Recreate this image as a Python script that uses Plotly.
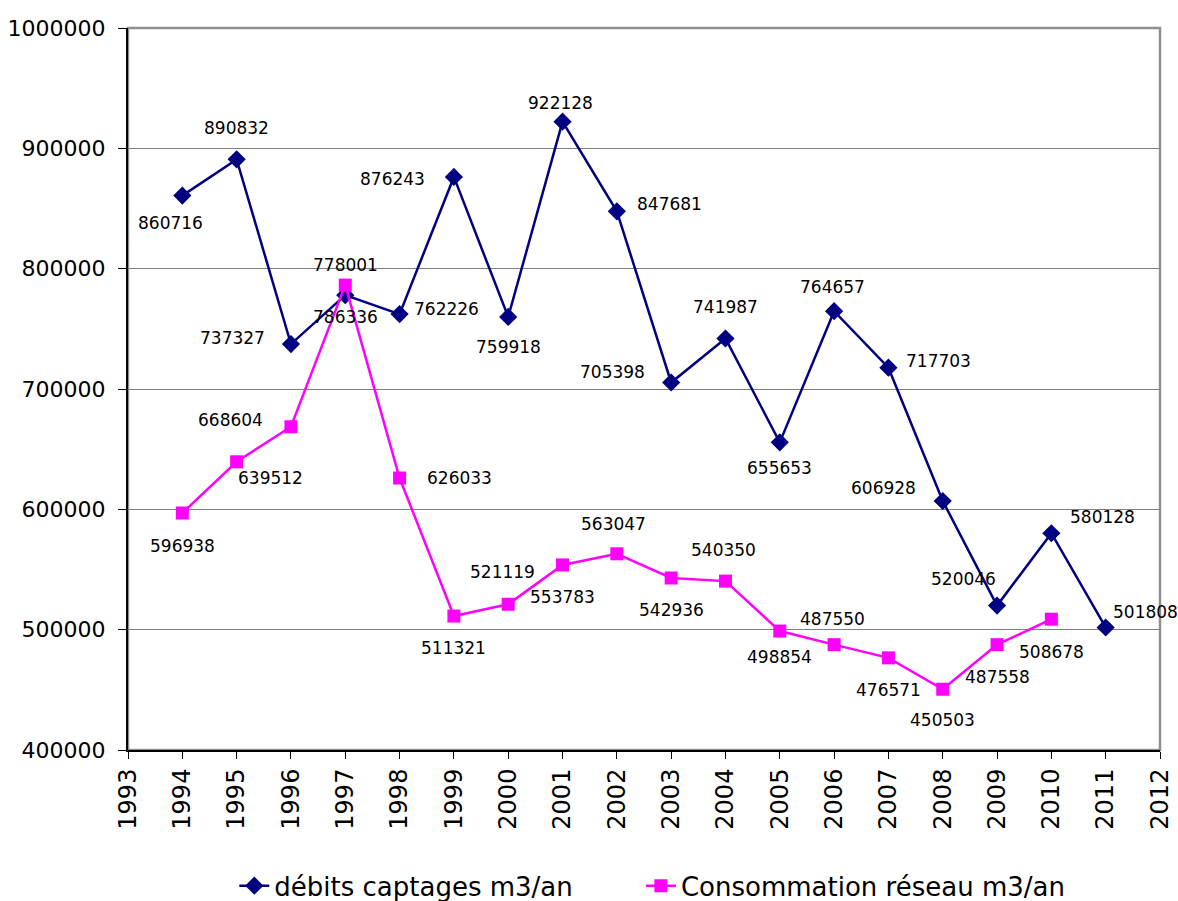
import plotly.graph_objects as go

years_captages = [1994, 1995, 1996, 1997, 1998, 1999, 2000, 2001, 2002, 2003,
                  2004, 2005, 2006, 2007, 2008, 2009, 2010, 2011]
debits_captages = [860716, 890832, 737327, 778001, 762226, 876243, 759918, 922128,
                   847681, 705398, 741987, 655653, 764657, 717703, 606928, 520046,
                   580128, 501808]

years_conso = [1994, 1995, 1996, 1997, 1998, 1999, 2000, 2001, 2002, 2003,
               2004, 2005, 2006, 2007, 2008, 2009, 2010]
conso_reseau = [596938, 639512, 668604, 786336, 626033, 511321, 521119, 553783,
                563047, 542936, 540350, 498854, 487550, 476571, 450503, 487558,
                508678]

y_ticks = [400000, 500000, 600000, 700000, 800000, 900000, 1000000]
x_ticks = list(range(1993, 2013))

# label offsets in pixels from the marker (dx right, dy down) -- style only
off_captages = [(-12, 27), (0, -31), (-58, -6), (0, -30), (47, -5), (-61, 2),
                (0, 30), (-2, -19), (53, -7), (-59, -11), (0, -31), (0, 26),
                (-2, -24), (50, -7), (-59, -13), (-34, -27), (51, -16), (40, -15)]
off_conso = [(0, 33), (34, 16), (-60, -7), (0, 32), (60, 0), (0, 32), (-6, -32),
             (0, 32), (-3, -30), (0, 32), (-2, -31), (0, 26), (-2, -26), (0, 32),
             (0, 31), (0, 32), (0, 33)]

NAVY = "#000080"
PINK = "#FF00FF"
FONT = "DejaVu Sans"

fig = go.Figure()
fig.add_trace(go.Scatter(
    x=years_captages, y=debits_captages, name="débits captages m3/an",
    mode="lines+markers", legend="legend",
    line=dict(color=NAVY, width=2.5),
    marker=dict(symbol="diamond", size=14, color=NAVY),
    cliponaxis=False,
))
fig.add_trace(go.Scatter(
    x=years_conso, y=conso_reseau, name="Consommation réseau m3/an",
    mode="lines+markers", legend="legend2",
    line=dict(color=PINK, width=2.5),
    marker=dict(symbol="square", size=13, color=PINK),
    cliponaxis=False,
))

for xs, ys, offs in ((years_captages, debits_captages, off_captages),
                     (years_conso, conso_reseau, off_conso)):
    for x, y, (dx, dy) in zip(xs, ys, offs):
        fig.add_annotation(x=x, y=y, text=str(y), showarrow=False,
                           xshift=dx, yshift=-dy,
                           font=dict(size=17, color="black", family=FONT))

legend_style = dict(orientation="h", xanchor="left", y=-0.188, yanchor="middle",
                    font=dict(size=26, family=FONT), bgcolor="rgba(0,0,0,0)")

fig.update_layout(
    width=1178, height=901,
    margin=dict(l=128, r=18, t=28, b=151, autoexpand=False),
    paper_bgcolor="white", plot_bgcolor="white",
    font=dict(family=FONT, color="black"),
    showlegend=True,
    legend=dict(x=0.103, **legend_style),
    legend2=dict(x=0.497, **legend_style),
    shapes=[dict(type="rect", xref="paper", yref="paper", x0=0, x1=1, y0=0, y1=1,
                 line=dict(color="#909090", width=2.5), layer="below")],
)
fig.update_xaxes(
    range=[1993, 2012], tickvals=x_ticks, ticktext=[str(t) for t in x_ticks],
    tickangle=-90, ticks="outside", ticklen=7, tickcolor="black",
    showline=True, linecolor="black", linewidth=2, showgrid=False, zeroline=False,
    automargin=False,
    tickfont=dict(size=24, family=FONT),
)
fig.update_yaxes(
    range=[400000, 1000000], tickvals=y_ticks, ticktext=[str(t) for t in y_ticks],
    ticks="outside", ticklen=8, tickcolor="black", ticklabelstandoff=8,
    showline=True, linecolor="black", linewidth=2,
    showgrid=True, gridcolor="#808080", gridwidth=1, zeroline=False,
    automargin=False,
    tickfont=dict(size=22, family=FONT),
)

fig.write_html("out.html",
               config={"displayModeBar": False},
               post_script="document.body.style.margin='0';document.body.style.overflow='hidden';")
